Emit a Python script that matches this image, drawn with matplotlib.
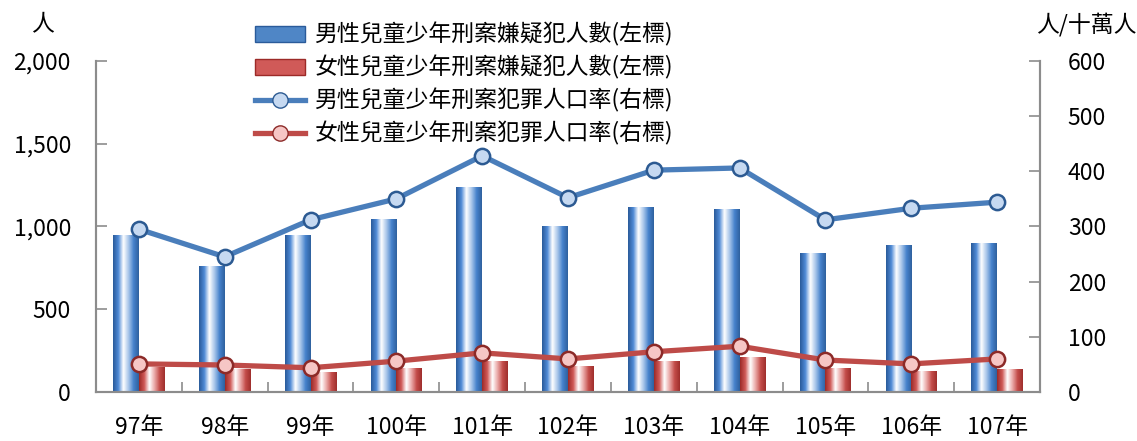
import numpy as np
import matplotlib.pyplot as plt
from matplotlib.colors import LinearSegmentedColormap
from matplotlib.patches import Patch
from matplotlib.lines import Line2D
from matplotlib.ticker import FuncFormatter, MultipleLocator

plt.rcParams['font.family'] = ['Noto Sans CJK TC', 'DejaVu Sans']

years = ['97年', '98年', '99年', '100年', '101年', '102年', '103年', '104年', '105年', '106年', '107年']
male_suspects = [950, 761, 950, 1042, 1239, 1003, 1118, 1106, 840, 888, 900]
female_suspects = [151, 139, 121, 145, 187, 157, 187, 211, 145, 127, 139]
male_rate = [295, 245, 312, 350, 428, 352, 402, 406, 312, 333, 344]
female_rate = [51, 49, 44, 56, 71, 60, 73, 83, 58, 51, 60]

labels = ['男性兒童少年刑案嫌疑犯人數(左標)', '女性兒童少年刑案嫌疑犯人數(左標)',
          '男性兒童少年刑案犯罪人口率(右標)', '女性兒童少年刑案犯罪人口率(右標)']

blue_cmap = LinearSegmentedColormap.from_list(
    'bl', ['#2a5b9a', '#4f8ad6', '#ffffff', '#a9c6ea', '#4682cc', '#2f619f'])
red_cmap = LinearSegmentedColormap.from_list(
    'rd', ['#9c2a28', '#d05a58', '#ffffff', '#eaa9a8', '#c44d4a', '#9f2f2d'])

fig = plt.figure(figsize=(11.37, 4.41), dpi=100)
ax = fig.add_axes([0.0844, 0.111, 0.8303, 0.751])
ax2 = ax.twinx()

x = np.arange(len(years))
w = 0.3
grad = np.linspace(0, 1, 64).reshape(1, -1)


def grad_bars(xs, hs, cmap):
    for xi, hi in zip(xs, hs):
        b = ax.bar(xi, hi, w, color='none', edgecolor='none', zorder=2)[0]
        im = ax.imshow(grad, extent=[xi - w / 2, xi + w / 2, 0, hi], aspect='auto',
                       cmap=cmap, zorder=2, interpolation='bilinear')
        im.set_clip_path(b)


grad_bars(x - w / 2, male_suspects, blue_cmap)
grad_bars(x + w / 2, female_suspects, red_cmap)

ax2.plot(x, male_rate, color='#4a7ebb', lw=3.8, marker='o', ms=11,
         mfc='#c6d9f1', mec='#2c5a92', mew=1.8, zorder=3)
ax2.plot(x, female_rate, color='#be4b48', lw=3.8, marker='o', ms=11,
         mfc='#f6c6c5', mec='#8c2a28', mew=1.8, zorder=3)

ax.set_xlim(-0.5, len(years) - 0.5)
ax.set_ylim(0, 2000)
ax2.set_ylim(0, 600)
ax.set_aspect('auto')

ax.yaxis.set_major_locator(MultipleLocator(500))
ax.yaxis.set_major_formatter(FuncFormatter(lambda v, p: f'{int(v):,}'))
ax2.yaxis.set_major_locator(MultipleLocator(100))

ax.set_xticks(x)
ax.set_xticklabels(years)
ax.set_xticks(np.arange(len(years) + 1) - 0.5, minor=True)

gray = '#8c8c8c'
for a in (ax, ax2):
    a.spines['top'].set_visible(False)
    for s in ('left', 'right', 'bottom'):
        a.spines[s].set_color(gray)
        a.spines[s].set_linewidth(1.5)

fs = 16.5
ax.tick_params(axis='x', which='major', length=0, labelsize=fs, pad=17)
ax.tick_params(axis='x', which='minor', direction='in', length=7, color=gray, width=1.2)
ax.tick_params(axis='y', direction='in', length=8, color=gray, width=1.2, labelsize=fs, pad=18)
ax2.tick_params(axis='y', direction='in', length=8, color=gray, width=1.2, labelsize=fs, pad=20)

fig.text(0.037, 0.945, '人', fontsize=fs, ha='center', va='center')
fig.text(0.955, 0.945, '人/十萬人', fontsize=fs, ha='center', va='center')

handles = [
    Patch(facecolor='#4f86c6', edgecolor='#2a5b9a'),
    Patch(facecolor='#d05a58', edgecolor='#9c2a28'),
    Line2D([], [], color='#4a7ebb', lw=3.8, marker='o', ms=11, mfc='#c6d9f1', mec='#2c5a92'),
    Line2D([], [], color='#be4b48', lw=3.8, marker='o', ms=11, mfc='#f6c6c5', mec='#8c2a28'),
]
fig.legend(handles, labels, loc='upper left', bbox_to_anchor=(0.216, 0.97),
           frameon=False, fontsize=fs, handlelength=2.2, handletextpad=0.4,
           labelspacing=0.38, borderaxespad=0)

fig.savefig('out.png', dpi=100)
